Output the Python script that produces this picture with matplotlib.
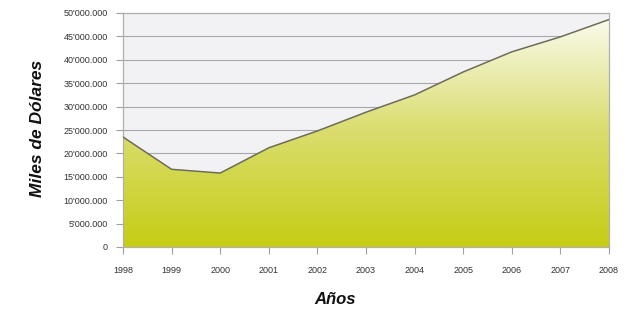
import numpy as np
import matplotlib.pyplot as plt
from matplotlib.colors import LinearSegmentedColormap
from matplotlib.ticker import FuncFormatter

plt.rcParams['font.family'] = ['Liberation Sans', 'DejaVu Sans']

# data (thousands of dollars)
years = [1998, 1999, 2000, 2001, 2002, 2003, 2004, 2005, 2006, 2007, 2008]
values = [23.5e6, 16.6e6, 15.8e6, 21.2e6, 24.8e6, 28.8e6, 32.5e6, 37.4e6, 41.7e6, 44.9e6, 48.6e6]
y_ticks = list(range(0, 50000001, 5000000))


def fmt(v, pos):
    if v == 0:
        return '0'
    s = f'{int(v):,}'
    parts = s.split(',')
    return parts[0] + "'" + '.'.join(parts[1:])


fig = plt.figure(figsize=(6.31, 3.14), dpi=100)
ax = fig.add_axes([123 / 631, 67 / 314, 486 / 631, 234 / 314])
ax.set_facecolor('#f2f2f4')

ax.set_xlim(years[0], years[-1])
ax.set_ylim(0, 50000000)

# vertical gradient fill clipped by the area polygon
cmap = LinearSegmentedColormap.from_list('g', ['#c6cd14', '#dadd6e', '#fcfcf2'])
grad = np.linspace(0, 1, 256).reshape(-1, 1)
img = ax.imshow(grad, cmap=cmap, aspect='auto', origin='lower',
                extent=[years[0], years[-1], 0, 50000000], zorder=2)
poly = ax.fill_between(years, values, 0, color='none', zorder=2)
img.set_clip_path(poly.get_paths()[0], transform=ax.transData)
ax.plot(years, values, color='#6d6d5a', lw=1.1, zorder=3)

ax.set_yticks(y_ticks)
ax.set_xticks(years)
ax.yaxis.set_major_formatter(FuncFormatter(fmt))
ax.grid(axis='y', color='#a8a8a8', lw=0.8, zorder=1)
ax.set_axisbelow(True)

for sp in ax.spines.values():
    sp.set_color('#b0b0b0')
    sp.set_linewidth(0.9)

ax.tick_params(axis='both', labelsize=6.5, colors='#a0a0a0', labelcolor='#333333',
               length=5, width=0.8)
ax.tick_params(axis='x', pad=9)
ax.tick_params(axis='y', pad=6)

fig.text(38 / 631, 1 - 128 / 314, 'Miles de Dólares', rotation=90, ha='center', va='center',
         fontsize=12.5, fontweight='bold', fontstyle='italic', color='#111111')
fig.text(335 / 631, 1 - 300 / 314, 'Años', ha='center', va='center',
         fontsize=12, fontweight='bold', fontstyle='italic', color='#111111')

fig.savefig('out.png', dpi=100)
